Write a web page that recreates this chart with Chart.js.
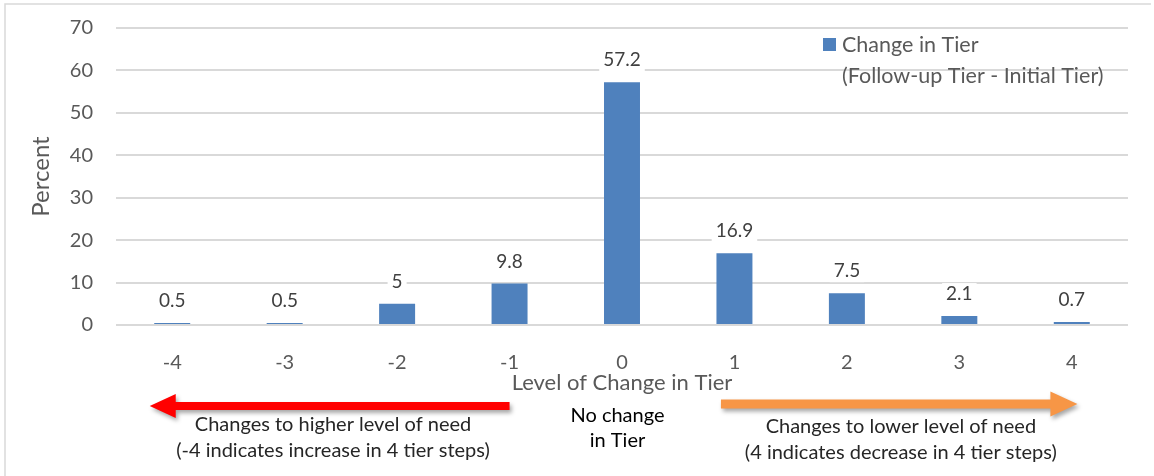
<!DOCTYPE html>
<html>
<head>
<meta charset="utf-8">
<script src="https://cdn.jsdelivr.net/npm/chart.js@4.4.0/dist/chart.umd.min.js"></script>
<style>
  html, body { margin: 0; padding: 0; background: #fff; }
</style>
</head>
<body>
<canvas id="tierChart" width="1154" height="476"></canvas>
<script>
const tierLevels = ["-4", "-3", "-2", "-1", "0", "1", "2", "3", "4"];
const tierPercent = [0.5, 0.5, 5, 9.8, 57.2, 16.9, 7.5, 2.1, 0.7];
const legendLines = ["Change in Tier", "(Follow-up Tier - Initial Tier)"];
const higherNeedText = ["Changes to higher level of need", "(-4 indicates increase in 4 tier steps)"];
const noChangeText = ["No change", "in Tier"];
const lowerNeedText = ["Changes to lower level of need", "(4 indicates decrease in 4 tier steps)"];

const FONT = "Lato, 'Open Sans', sans-serif";
const GREY_TEXT = "#595959";
const BAR_BLUE = "#4f81bd";

// thin frame on the top and left edges
const framePlugin = {
    id: "frame",
    beforeDraw(chart) {
        const ctx = chart.ctx;
        ctx.save();
        ctx.fillStyle = "#fff";
        ctx.fillRect(0, 0, chart.width, chart.height);
        ctx.strokeStyle = "#d9d9d9";
        ctx.lineWidth = 1.5;
        ctx.beginPath();
        ctx.moveTo(5, chart.height);
        ctx.lineTo(5, 4);
        ctx.lineTo(chart.width - 3, 4);
        ctx.stroke();
        ctx.restore();
    },
};

// value above each bar, on a white box
const valueLabels = {
    id: "valueLabels",
    afterDatasetsDraw(chart) {
        const ctx = chart.ctx;
        const meta = chart.getDatasetMeta(0);
        ctx.save();
        ctx.font = "19px " + FONT;
        ctx.textAlign = "center";
        ctx.textBaseline = "middle";
        meta.data.forEach((bar, i) => {
            const text = String(tierPercent[i]);
            const w = ctx.measureText(text).width;
            const y = bar.y - 22;
            ctx.fillStyle = "#fff";
            ctx.fillRect(bar.x - w / 2 - 4, y - 11, w + 8, 22);
            ctx.fillStyle = "#404040";
            ctx.fillText(text, bar.x, y);
        });
        ctx.restore();
    },
};

// legend box in the upper right of the plot
const legendBox = {
    id: "legendBox",
    afterDatasetsDraw(chart) {
        const ctx = chart.ctx;
        const area = chart.chartArea;
        const left = area.right - 305;
        const top = area.top + 10;
        ctx.save();
        ctx.fillStyle = BAR_BLUE;
        ctx.fillRect(left, top, 13, 13);
        ctx.font = "21.5px " + FONT;
        ctx.fillStyle = GREY_TEXT;
        ctx.textAlign = "left";
        ctx.textBaseline = "middle";
        legendLines.forEach((line, i) => {
            ctx.fillText(line, left + 19, top + 7 + i * 31);
        });
        ctx.restore();
    },
};

function drawArrow(ctx, tailX, tipX, y, shaft, headW, headL, color) {
    const dir = tipX > tailX ? 1 : -1;
    const baseX = tipX - dir * headL;
    ctx.beginPath();
    ctx.moveTo(tailX, y - shaft / 2);
    ctx.lineTo(baseX, y - shaft / 2);
    ctx.lineTo(baseX, y - headW / 2);
    ctx.lineTo(tipX, y);
    ctx.lineTo(baseX, y + headW / 2);
    ctx.lineTo(baseX, y + shaft / 2);
    ctx.lineTo(tailX, y + shaft / 2);
    ctx.closePath();
    ctx.fillStyle = color;
    ctx.fill();
}

function drawLines(ctx, lines, x, y, gap) {
    lines.forEach((line, i) => ctx.fillText(line, x, y + i * gap));
}

// direction arrows and notes under the x axis
const directionNotes = {
    id: "directionNotes",
    afterDraw(chart) {
        const ctx = chart.ctx;
        const xs = chart.scales.x;
        const base = chart.chartArea.bottom;
        ctx.save();
        ctx.shadowColor = "rgba(0,0,0,0.35)";
        ctx.shadowBlur = 4;
        ctx.shadowOffsetX = 2;
        ctx.shadowOffsetY = 3;
        drawArrow(ctx, xs.getPixelForValue(3), xs.getPixelForValue(-0.2), base + 81, 8, 24, 26, "#ff0000");
        drawArrow(ctx, xs.getPixelForValue(4.88), xs.getPixelForValue(8.05), base + 79, 9, 25, 27, "#f79646");
        ctx.restore();

        ctx.save();
        ctx.font = "20px " + FONT;
        ctx.textAlign = "center";
        ctx.textBaseline = "middle";
        ctx.fillStyle = "#262626";
        drawLines(ctx, higherNeedText, xs.getPixelForValue(1.43), base + 100, 26);
        drawLines(ctx, lowerNeedText, xs.getPixelForValue(6.48), base + 102, 26);
        ctx.fillStyle = "#000";
        drawLines(ctx, noChangeText, xs.getPixelForValue(3.96), base + 91, 25);
        ctx.restore();
    },
};

new Chart(document.getElementById("tierChart"), {
    type: "bar",
    data: {
        labels: tierLevels,
        datasets: [
            {
                label: legendLines.join(" "),
                data: tierPercent,
                backgroundColor: BAR_BLUE,
                barPercentage: 0.64,
                categoryPercentage: 0.5,
            },
        ],
    },
    options: {
        responsive: false,
        animation: false,
        layout: {
            padding: { left: 0, right: 26, top: 28, bottom: 80 },
        },
        plugins: {
            legend: { display: false },
            tooltip: { enabled: false },
        },
        scales: {
            x: {
                grid: { display: false },
                border: { display: false },
                ticks: {
                    color: GREY_TEXT,
                    font: { family: FONT, size: 20 },
                    padding: 18,
                },
                title: {
                    display: true,
                    text: "Level of Change in Tier",
                    color: GREY_TEXT,
                    font: { family: FONT, size: 22 },
                    padding: { top: 0, bottom: 0 },
                },
                afterFit(scale) {
                    scale.height = 71;
                },
            },
            y: {
                min: 0,
                max: 70,
                grid: {
                    color: "#d9d9d9",
                    lineWidth: 2,
                    drawTicks: false,
                },
                border: { display: false },
                ticks: {
                    stepSize: 10,
                    color: GREY_TEXT,
                    font: { family: FONT, size: 20 },
                    padding: 23,
                },
                title: {
                    display: true,
                    text: "Percent",
                    color: GREY_TEXT,
                    font: { family: FONT, size: 24 },
                    padding: { top: 27, bottom: 0 },
                },
                afterFit(scale) {
                    // keep the plot edges set by the layout padding alone
                    scale.width = 116;
                    scale.paddingTop = 0;
                    scale.paddingBottom = 0;
                },
            },
        },
    },
    plugins: [framePlugin, valueLabels, legendBox, directionNotes],
});
</script>
</body>
</html>
